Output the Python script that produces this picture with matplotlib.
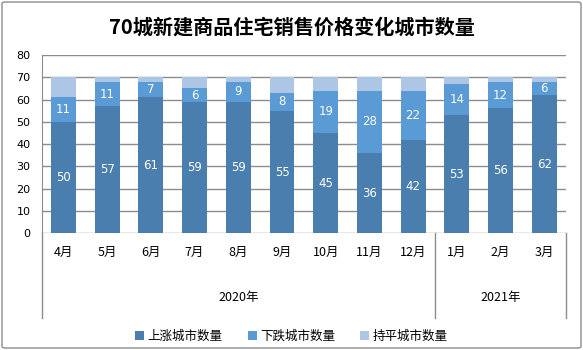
import numpy as np
import matplotlib
matplotlib.use("Agg")
import matplotlib.pyplot as plt
from matplotlib.patches import FancyBboxPatch
from matplotlib.transforms import blended_transform_factory

plt.rcParams['font.family'] = ['Noto Sans CJK SC', 'DejaVu Sans']

months = ['4月', '5月', '6月', '7月', '8月', '9月', '10月', '11月', '12月', '1月', '2月', '3月']
years = ['2020年', '2021年']
year_counts = [9, 3]
up = [50, 57, 61, 59, 59, 55, 45, 36, 42, 53, 56, 62]
down = [11, 11, 7, 6, 9, 8, 19, 28, 22, 14, 12, 6]
flat = [9, 2, 2, 5, 2, 7, 6, 6, 6, 3, 2, 2]
series_names = ['上涨城市数量', '下跌城市数量', '持平城市数量']
colors = ['#4a7eaf', '#5b9bd5', '#aec6e6']

W, H = 583, 350
fig = plt.figure(figsize=(W / 100, H / 100), dpi=100)

# outer frame
fig.patches.append(FancyBboxPatch((2 / W, 2 / H), 1 - 4 / W, 1 - 4 / H,
                                  boxstyle="round,pad=0,rounding_size=0.005",
                                  transform=fig.transFigure, fill=False,
                                  edgecolor='#8c8c8c', linewidth=1))

left, right, top, bottom = 41.7, 566, 55, 233.3
ax = fig.add_axes([left / W, 1 - bottom / H, (right - left) / W, (bottom - top) / H])

x = np.arange(len(months))
bw = 0.57
b1 = ax.bar(x, up, bw, color=colors[0], label=series_names[0], zorder=3)
b2 = ax.bar(x, down, bw, bottom=up, color=colors[1], label=series_names[1], zorder=3)
b3 = ax.bar(x, flat, bw, bottom=np.array(up) + np.array(down), color=colors[2],
            label=series_names[2], zorder=3)
ax.bar_label(b1, label_type='center', color='white', fontsize=8.5, family='DejaVu Sans')
ax.bar_label(b2, label_type='center', color='white', fontsize=8.5, family='DejaVu Sans')

ax.set_xlim(-0.5, len(months) - 0.5)
ax.set_ylim(0, 80)
ax.set_yticks(range(0, 81, 10))
ax.tick_params(axis='y', length=0, pad=8, labelsize=8)
for lbl in ax.get_yticklabels():
    lbl.set_family('DejaVu Sans')
ax.yaxis.grid(True, color='#8c8c8c', linewidth=1, zorder=0)
ax.set_axisbelow(True)
for s in ['top', 'right', 'bottom']:
    ax.spines[s].set_visible(False)
ax.spines['left'].set_color('#8c8c8c')

ax.set_xticks(x)
ax.set_xticklabels(months, fontsize=9)
ax.tick_params(axis='x', length=0, pad=9)

# year group labels and separators
tr = blended_transform_factory(ax.transData, ax.transAxes)
sep_depth = -(318 - bottom) / (bottom - top)
year_y = -(298 - bottom) / (bottom - top)
start = -0.5
ax.plot([start, start], [0, sep_depth], transform=tr, color='#8c8c8c', lw=1, clip_on=False)
for yr, n in zip(years, year_counts):
    end = start + n
    ax.text((start + end) / 2, year_y, yr, transform=tr, ha='center', va='center', fontsize=9)
    ax.plot([end, end], [0, sep_depth], transform=tr, color='#8c8c8c', lw=1, clip_on=False)
    start = end

fig.text(0.5, 1 - 27 / H, '70城新建商品住宅销售价格变化城市数量', ha='center', va='center',
         fontsize=14.5, fontweight='bold')

fig.legend(handles=[b1, b2, b3], loc='center', bbox_to_anchor=(0.5, 1 - 336 / H),
           ncol=3, frameon=False, fontsize=9, handlelength=0.7, handleheight=0.7,
           handletextpad=0.3, columnspacing=2.0)

fig.savefig('out.png', dpi=100)
